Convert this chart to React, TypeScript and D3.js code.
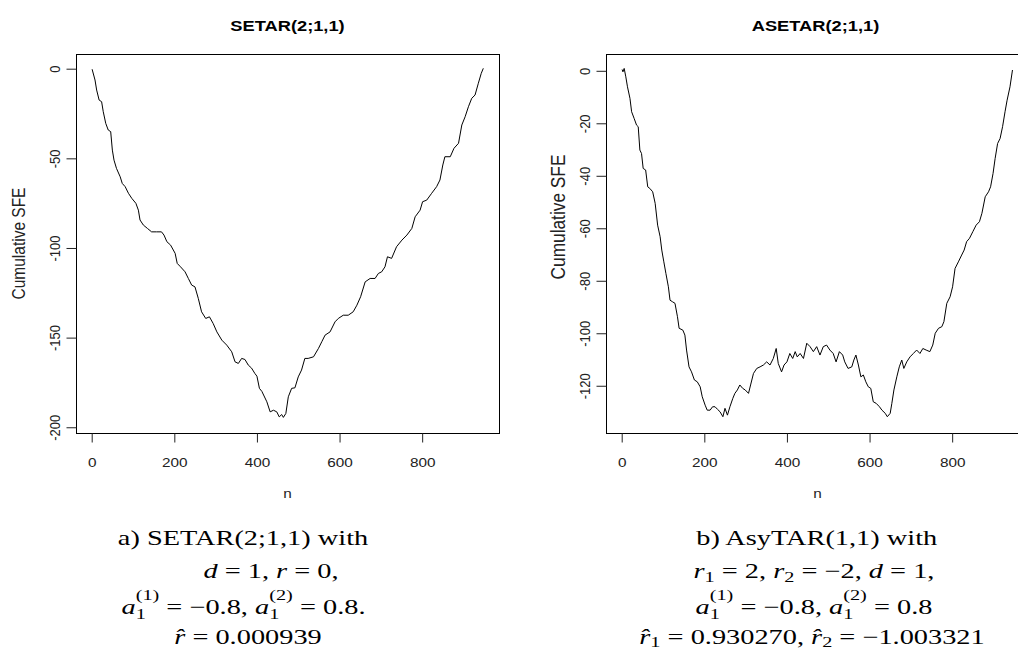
import * as d3 from "d3";
import React, { useEffect, useRef } from "react";

// SETAR(2;1,1): cumulative SFE against n
const setarN = [
  1, 8, 12, 18, 24, 28, 34, 40, 46, 50, 54, 60, 69, 74, 81, 89, 97, 107, 113, 117,
  125, 135, 145, 157, 169, 175, 182, 191, 202, 207, 215, 226, 234, 242, 250, 258,
  266, 276, 285, 294, 303, 315, 327, 339, 347, 355, 363, 371, 379, 387, 395, 400,
  406, 412, 424, 432, 440, 448, 454, 460, 464, 470, 476, 484, 492, 500, 508, 516,
  524, 537, 549, 557, 565, 577, 589, 597, 609, 621, 633, 642, 651, 662, 674, 686,
  694, 702, 710, 716, 726, 738, 751, 763, 775, 783, 795, 801, 811, 823, 835, 843,
  850, 855, 868, 877, 888, 896, 904, 912, 920, 928, 936, 943, 948,
];
const setarSfe = [
  -0.3, -6.3, -11.9, -17.5, -18.4, -24, -30.5, -34.2, -35.1, -45.4, -51, -55.6,
  -60.3, -64, -65.8, -69.5, -72.3, -75.1, -78.9, -84.4, -87.2, -89.1, -91, -91,
  -91, -92.8, -96.5, -98.4, -103, -108.6, -110.5, -113.3, -117, -120.7, -121.7,
  -128.1, -135.6, -139.3, -138.4, -142.1, -146.8, -151.4, -154.2, -157.9, -163.5,
  -164.4, -161.6, -162.2, -165.3, -167, -170, -171.5, -178.3, -180, -185.8,
  -191.4, -190.5, -191.4, -194.2, -192.9, -194.5, -192.3, -183, -178.3, -178,
  -171.9, -168.1, -161.6, -161.6, -160.7, -156, -152.3, -148.6, -146.8, -141.2,
  -139.3, -137.5, -137.5, -135.6, -131.9, -127.2, -118.9, -117, -117, -114.2,
  -113.3, -110.5, -104.9, -105.8, -99.3, -95.6, -92.8, -89.1, -82.6, -78.9,
  -74.2, -73.3, -69.5, -65.8, -62.1, -53.7, -49.1, -49.1, -44.4, -41.6, -31.4,
  -26.8, -21.2, -16.5, -14.7, -8.1, -2.6, 0.2,
];

// ASETAR(2;1,1): cumulative SFE against n
const asetarN = [
  1, 3, 6, 10, 14, 20, 24, 30, 36, 40, 44, 48, 52, 58, 63, 68, 75, 81, 87, 93, 97,
  102, 107, 113, 117, 123, 129, 135, 139, 148, 153, 157, 163, 169, 176, 183, 190,
  195, 202, 207, 214, 220, 226, 232, 238, 245, 250, 256, 262, 269, 274, 280, 286,
  293, 299, 307, 312, 319, 327, 335, 343, 351, 359, 367, 374, 379, 387, 393, 400,
  407, 414, 420, 425, 432, 440, 448, 456, 464, 472, 480, 488, 496, 504, 512, 519,
  527, 535, 540, 548, 557, 562, 567, 573, 579, 585, 591, 597, 603, 609, 616, 624,
  630, 638, 643, 650, 654, 659, 666, 672, 678, 683, 690, 698, 706, 714, 722, 729,
  737, 746, 753, 759, 767, 775, 780, 787, 795, 801, 807, 815, 823, 829, 835, 842,
  850, 858, 866, 872, 880, 888, 893, 899, 904, 910, 916, 922, 928, 933, 940, 946,
];
const asetarSfe = [
  0.5, -0.4, 0.9, -2.3, -6.1, -10.5, -15.6, -18.1, -20.7, -21.3, -30.2, -31.5,
  -37.2, -37.8, -44.2, -44.8, -46.1, -50.5, -58.8, -63.2, -68.3, -72.8, -77.2,
  -82.3, -87.4, -88, -88.6, -93.7, -98.1, -98.8, -100.7, -106.4, -112.8, -114.7,
  -117.8, -118.5, -120.4, -124.2, -127.4, -129.3, -129.3, -128, -128, -129,
  -129.9, -131.8, -128.6, -131.2, -128, -124.8, -122.9, -121.6, -119.7, -121,
  -121.6, -122.9, -119.7, -115.3, -113.4, -112.8, -112.1, -110.9, -112.1, -109.6,
  -105.8, -111.5, -114.7, -112.1, -110.9, -107.7, -109.6, -107, -109, -107.7,
  -109.6, -103.8, -105.1, -107, -105.1, -108.3, -105.1, -104.5, -106.4, -107.7,
  -110.9, -107, -108.3, -110.9, -113.4, -112.8, -110.2, -108.3, -112.1, -116.6,
  -115.9, -118.5, -120.4, -121, -126.1, -126.7, -128, -129.3, -130.5, -131.8,
  -130.5, -126.7, -121.6, -116.6, -112.8, -110.2, -113.4, -110.9, -109, -107.7,
  -106.4, -107.7, -105.8, -106.4, -107, -104.5, -100, -98.1, -97.5, -95.6, -88.6,
  -86.1, -82.3, -75.3, -72.8, -70.2, -68.3, -65.1, -63.8, -61.3, -58.8, -57.5,
  -54.3, -48, -46.1, -44.2, -39.1, -33.4, -27.7, -25.8, -21.3, -15.6, -11.2, -6.1,
  0.3,
];

const nTicks = [0, 200, 400, 600, 800];
const setarTicks = [0, -50, -100, -150, -200];
const asetarTicks = [0, -20, -40, -60, -80, -100, -120];

const SX = 1.18; // the source picture is stretched sideways
const CX = 1.35; // caption stretch
const sans = "'Liberation Sans', Arial, sans-serif";
const serif = "'Liberation Serif', 'Times New Roman', serif";

const drawPanel = (root, cfg) => {
  const top = 54;
  const bottom = 433;
  const width = 423;
  const x = d3.scaleLinear().domain([-38, 986]).range([cfg.left, cfg.left + width]);
  const y = d3.scaleLinear().domain(cfg.yDomain).range([bottom, top]);
  const g = root.append("g");

  g.append("rect")
    .attr("x", cfg.left + 0.5)
    .attr("y", top + 0.5)
    .attr("width", width)
    .attr("height", bottom - top)
    .attr("fill", "none")
    .attr("stroke", "#000");

  const xAxis = g
    .append("g")
    .attr("transform", `translate(0,${bottom + 0.5})`)
    .call(d3.axisBottom(x).tickValues(nTicks).tickSize(9).tickFormat((d) => String(d)));
  xAxis.select(".domain").remove();
  xAxis.attr("font-size", 13).attr("font-family", sans);
  xAxis.selectAll("line").attr("stroke", "#222");
  xAxis
    .selectAll("text")
    .attr("y", 33.5)
    .attr("dy", 0)
    .attr("fill", "#222")
    .attr("transform", `scale(${SX},1)`);

  const yAxis = g
    .append("g")
    .attr("transform", `translate(${cfg.left + 0.5},0)`)
    .call(d3.axisLeft(y).tickValues(cfg.ticks).tickSize(10).tickFormat((d) => String(d)));
  yAxis.select(".domain").remove();
  yAxis.attr("font-size", 13).attr("font-family", sans);
  yAxis.selectAll("line").attr("stroke", "#222");
  yAxis
    .selectAll("text")
    .attr("x", 0)
    .attr("dy", 0)
    .attr("fill", "#222")
    .attr("text-anchor", "middle")
    .attr("transform", `translate(-16.5,0) scale(${SX},1) rotate(-90)`);

  const line = d3
    .line()
    .x((d) => x(d[0]))
    .y((d) => y(d[1]));
  g.append("path")
    .datum(d3.zip(cfg.n, cfg.sfe))
    .attr("fill", "none")
    .attr("stroke", "#000")
    .attr("stroke-width", 1)
    .attr("stroke-linejoin", "round")
    .attr("d", line);

  const mid = cfg.left + width / 2;
  g.append("text")
    .attr("transform", `translate(${cfg.titleX},30.7) scale(${SX},1)`)
    .attr("text-anchor", "middle")
    .attr("font-family", sans)
    .attr("font-weight", "bold")
    .attr("font-size", 15.5)
    .text(cfg.title);

  g.append("text")
    .attr("transform", `translate(${mid},498) scale(${SX},1)`)
    .attr("text-anchor", "middle")
    .attr("font-family", sans)
    .attr("font-size", 13)
    .attr("fill", "#222")
    .text("n");

  g.append("text")
    .attr("transform", `translate(${cfg.ylabX},${cfg.ylabY}) scale(${SX},1) rotate(-90)`)
    .attr("text-anchor", "middle")
    .attr("font-family", sans)
    .attr("font-size", cfg.ylabSize)
    .attr("fill", "#222")
    .text("Cumulative SFE");
};

const Stack = ({ sub, sup }) => (
  <>
    <tspan fontStyle="italic">a</tspan>
    <tspan fontSize={15} dy={5}>{sub}</tspan>
    <tspan fontSize={15} dx={-7.5} dy={-19}>{sup}</tspan>
    <tspan dy={14}>{" = "}</tspan>
  </>
);

const Line = ({ cx, y, children }) => (
  <g transform={`translate(${cx},${y}) scale(${CX},1)`}>
    <text textAnchor="middle" fontFamily={serif} fontSize={21} fill="#000">
      {children}
    </text>
  </g>
);

const App = () => {
  const svgRef = useRef();

  useEffect(() => {
    const root = d3.select(svgRef.current).select("g.panels");
    drawPanel(root, {
      left: 76,
      yDomain: [-203.2, 8.2],
      ticks: setarTicks,
      n: setarN,
      sfe: setarSfe,
      title: "SETAR(2;1,1)",
      titleX: 287.5,
      ylabX: 25,
      ylabY: 243.5,
      ylabSize: 15.5,
    });
    drawPanel(root, {
      left: 606,
      yDomain: [-138, 6.4],
      ticks: asetarTicks,
      n: asetarN,
      sfe: asetarSfe,
      title: "ASETAR(2;1,1)",
      titleX: 815.5,
      ylabX: 565,
      ylabY: 217,
      ylabSize: 17.3,
    });
    return () => {
      d3.select(svgRef.current).select("g.panels").selectAll("*").remove();
    };
  }, []);

  return (
    <div style={{ position: "absolute", left: 0, top: 0 }}>
      <svg ref={svgRef} width={1018} height={650} style={{ display: "block", background: "#fff" }}>
        <g className="panels"></g>

        <Line cx={243} y={545}>a) SETAR(2;1,1) with</Line>
        <Line cx={271} y={578}>
          <tspan fontStyle="italic">d</tspan>
          <tspan>{" = 1, "}</tspan>
          <tspan fontStyle="italic">r</tspan>
          <tspan>{" = 0,"}</tspan>
        </Line>
        <Line cx={243.5} y={614}>
          <Stack sub="1" sup="(1)" />
          <tspan>{"−0.8, "}</tspan>
          <Stack sub="1" sup="(2)" />
          <tspan>{"0.8."}</tspan>
        </Line>
        <Line cx={248} y={644}>
          <tspan fontStyle="italic">{"r\u0302"}</tspan>
          <tspan>{" = 0.000939"}</tspan>
        </Line>

        <Line cx={816.7} y={545}>b) AsyTAR(1,1) with</Line>
        <Line cx={814} y={578}>
          <tspan fontStyle="italic">r</tspan>
          <tspan fontSize={15} dy={4}>1</tspan>
          <tspan dy={-4}>{" = 2, "}</tspan>
          <tspan fontStyle="italic">r</tspan>
          <tspan fontSize={15} dy={4}>2</tspan>
          <tspan dy={-4}>{" = −2, "}</tspan>
          <tspan fontStyle="italic">d</tspan>
          <tspan>{" = 1,"}</tspan>
        </Line>
        <Line cx={814} y={614}>
          <Stack sub="1" sup="(1)" />
          <tspan>{"−0.8, "}</tspan>
          <Stack sub="1" sup="(2)" />
          <tspan>{"0.8"}</tspan>
        </Line>
        <Line cx={812} y={644}>
          <tspan fontStyle="italic">{"r\u0302"}</tspan>
          <tspan fontSize={15} dy={2.5}>1</tspan>
          <tspan dy={-2.5}>{" = 0.930270, "}</tspan>
          <tspan fontStyle="italic">{"r\u0302"}</tspan>
          <tspan fontSize={15} dy={2.5}>2</tspan>
          <tspan dy={-2.5}>{" = −1.003321"}</tspan>
        </Line>
      </svg>
    </div>
  );
};

export default App;
